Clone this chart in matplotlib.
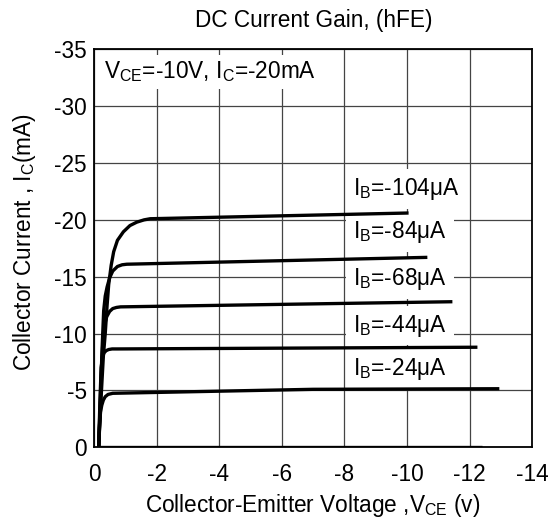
import matplotlib
matplotlib.use("Agg")
import matplotlib.pyplot as plt

plt.rcParams['font.family'] = ['Liberation Sans', 'DejaVu Sans']
plt.rcParams['mathtext.fontset'] = 'custom'
plt.rcParams['mathtext.rm'] = 'Liberation Sans'
plt.rcParams['mathtext.it'] = 'Liberation Sans'

# ---- data (V in volts, I in mA) ----
v_104 = [-0.15, -0.22, -0.30, -0.36, -0.42, -0.47, -0.55, -0.63, -0.75, -0.94, -1.15, -1.37, -1.60, -1.80, -10.0]
i_104 = [0.0, -4.0, -8.0, -10.0, -12.5, -14.3, -16.0, -17.2, -18.2, -18.95, -19.5, -19.8, -20.0, -20.1, -20.6]

v_84 = [-0.15, -0.21, -0.25, -0.31, -0.36, -0.42, -0.50, -0.60, -0.75, -0.90, -1.05, -10.6]
i_84 = [0.0, -4.0, -8.0, -12.0, -13.3, -14.1, -14.9, -15.5, -15.9, -16.05, -16.1, -16.7]

v_68 = [-0.15, -0.20, -0.24, -0.30, -0.35, -0.41, -0.50, -0.60, -0.72, -0.85, -11.4]
i_68 = [0.0, -4.0, -7.0, -10.0, -10.9, -11.5, -11.95, -12.2, -12.3, -12.35, -12.8]

v_44 = [-0.15, -0.19, -0.23, -0.27, -0.32, -0.39, -0.47, -0.58, -0.75, -12.2]
i_44 = [0.0, -4.0, -7.0, -7.9, -8.3, -8.5, -8.6, -8.65, -8.65, -8.8]

v_24 = [-0.15, -0.18, -0.21, -0.25, -0.30, -0.36, -0.45, -0.60, -7.0, -12.9]
i_24 = [0.0, -2.0, -3.1, -3.7, -4.15, -4.45, -4.65, -4.75, -5.1, -5.15]

zero_v = [-0.15, -12.4]
zero_i = [0.0, 0.0]

curve_labels = ['-104μA', '-84μA', '-68μA', '-44μA', '-24μA']
label_v = [-8.28, -8.28, -8.28, -8.28, -8.28]
label_i = [-22.7, -18.9, -14.8, -10.7, -6.9]

x_ticks = [0, -2, -4, -6, -8, -10, -12, -14]
y_ticks = [0, -5, -10, -15, -20, -25, -30, -35]

FS = 16.3

fig = plt.figure(figsize=(5.56, 5.26), dpi=100)
ax = fig.add_axes([0.169, 0.1496, 0.788, 0.7567])

ax.set_xlim(0, -14)
ax.set_ylim(0, -35)
ax.set_xticks(x_ticks)
ax.set_yticks(y_ticks)
ax.set_xticklabels([str(t) for t in x_ticks])
ax.set_yticklabels([str(t) for t in y_ticks])
ax.tick_params(length=0, labelsize=FS)
ax.tick_params(axis='x', pad=11.5)
ax.tick_params(axis='y', pad=5)

ax.grid(True, color='#444444', linewidth=0.9, zorder=0)
for s in ax.spines.values():
    s.set_linewidth(1.3)
    s.set_color('black')

lw = 2.4
ax.plot(zero_v, zero_i, color='black', lw=lw, zorder=3, solid_capstyle='butt')
for v, i in [(v_104, i_104), (v_84, i_84), (v_68, i_68), (v_44, i_44), (v_24, i_24)]:
    ax.plot(v, i, color='black', lw=lw, zorder=3, solid_joinstyle='round')

for lab, lv, li in zip(curve_labels, label_v, label_i):
    ax.text(lv, li, r'$\mathregular{I_B}$=' + lab, ha='left', va='center', fontsize=FS,
            zorder=2, bbox=dict(boxstyle='square,pad=0.3', fc='white', ec='none'))

ax.text(-0.32, -33.0, r'$\mathregular{V_{CE}}$=-10V, $\mathregular{I_C}$=-20mA',
        ha='left', va='center', fontsize=FS, zorder=2,
        bbox=dict(boxstyle='square,pad=0.2', fc='white', ec='none'))

fig.text(314 / 556, 1 - 20 / 526, 'DC Current Gain, (hFE)', ha='center', va='center', fontsize=FS)

ax.set_xlabel(r'Collector-Emitter Voltage ,$\mathregular{V_{CE}}$ (v)', fontsize=FS, va='center')
ax.xaxis.set_label_coords(0.499, (447.3 - 505.5) / 398.0)
ax.set_ylabel(r'Collector Current , $\mathregular{I_C}$(mA)', fontsize=FS, va='center')
ax.yaxis.set_label_coords(-0.1575, (447.3 - 242) / 398.0)

fig.savefig('out.png', dpi=100)
